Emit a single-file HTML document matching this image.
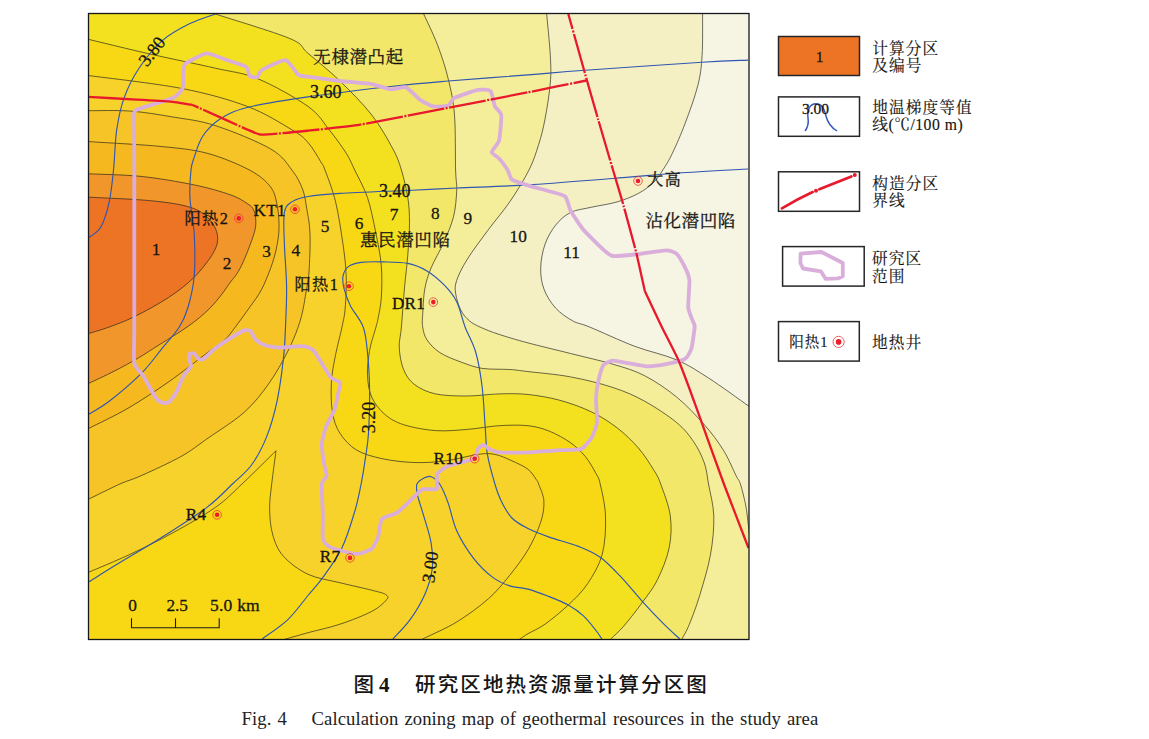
<!DOCTYPE html>
<html lang="zh-CN">
<head>
<meta charset="utf-8">
<title>图 4 研究区地热资源量计算分区图</title>
<style>
html,body{margin:0;padding:0;background:#fff;}
body{width:1149px;height:739px;overflow:hidden;position:relative;font-family:"Liberation Serif","Noto Serif CJK SC",serif;color:#1a1a1a;}
svg{position:absolute;left:0;top:0;display:block;}
svg text{font-family:"Liberation Serif","Noto Serif CJK SC",serif;fill:#161412;stroke:#161412;stroke-width:.28px;}
.ct{fill:none;stroke:#1d1d1d;stroke-width:.65;}
.bl{fill:none;stroke:#2f56b0;stroke-width:1.15;}
.rd{fill:none;stroke:#e8192c;stroke-width:2.3;stroke-linejoin:round;}
.pp{fill:none;stroke:#d9aedb;stroke-width:3.8;stroke-linejoin:round;stroke-linecap:round;}
.n{font-size:17.3px;text-anchor:middle;}
.v{font-size:18px;}
.z{font-size:17.5px;letter-spacing:.6px;}
.w{font-size:17.1px;letter-spacing:.3px;}
.wc{font-size:16.3px;letter-spacing:1.3px;}
.g{font-size:15.7px;letter-spacing:1.05px;stroke-width:.15px;}
.cap1{position:absolute;left:353.5px;top:668px;font-family:"Noto Sans CJK SC",sans-serif;font-weight:500;font-size:20.5px;letter-spacing:2.1px;line-height:30px;white-space:nowrap;color:#151515;}
.cap1 b{font-family:"Liberation Serif",serif;font-weight:bold;font-size:21px;letter-spacing:0;margin:0 25.5px 0 3px;}
.cap2{position:absolute;left:241.6px;top:706px;font-size:18.7px;letter-spacing:.06px;word-spacing:1.4px;line-height:26px;white-space:pre;color:#222;}
</style>
</head>
<body>
<svg width="1149" height="739" viewBox="0 0 1149 739">
<defs><clipPath id="mp"><rect x="88.5" y="13.5" width="660.5" height="626"/></clipPath></defs>
<g clip-path="url(#mp)">
<rect x="80" y="5" width="680" height="645" fill="#f6f4e3"/>
<path fill="#f4f0c4" d="M702.6 10C702.6 10.7 702.7 6.4 702.6 14C702.5 21.6 702.9 43.6 702.1 55.5C701.3 67.4 700.7 73.9 697.9 85.2C695.1 96.5 689.4 112.1 685.1 123.4C680.9 134.7 676.1 145.4 672.4 153.2C668.7 161 666 165.1 662.8 170C659.6 174.9 657.4 178.8 653.3 182.7C649.2 186.6 644.4 190.2 638.4 193.4C632.4 196.6 625 199.6 617.2 201.9C609.4 204.2 599.5 205.4 591.7 207.2C583.9 209 576.5 209.5 570.5 212.5C564.5 215.5 559.9 219.9 555.6 225.2C551.4 230.5 547.5 237.2 545 244.3C542.5 251.4 540.9 260.3 540.7 267.7C540.5 275.1 541.4 282.2 543.9 288.9C546.4 295.6 550.8 302.7 555.6 308C560.4 313.3 566.9 317.6 572.6 320.8C578.3 324 579.3 322.8 589.6 327C599.9 331.2 619.7 340.6 634.2 346.1C648.7 351.6 664.3 354.6 676.7 359.9C689.1 365.2 696.6 370.4 708.5 378C720.4 385.6 740.6 400.4 748 405.6C755.4 410.8 752.2 408.4 753 409L757 648L80 648L80 5Z"/>
<path fill="#f4ed9a" d="M546.5 10C546.5 10.7 546.1 6.4 546.7 14C547.3 21.6 549.7 44 550.3 55.5C550.9 67 551.2 72.5 550.3 83.1C549.4 93.7 547 108.9 545 119.2C543 129.5 541.3 136.2 538.6 144.7C535.9 153.2 533.8 160.5 529 170C524.2 179.5 516.5 192 509.7 201.9C502.9 211.8 495.6 219.9 488.5 229.5C481.4 239.1 472.6 250.7 467.3 259.2C462 267.7 458.6 274.7 456.7 280.4C454.8 286.1 454.9 288.2 455.6 293.2C456.3 298.2 458.6 305.6 460.9 310.2C463.2 314.8 466.2 318 469.4 320.8C472.6 323.6 475.1 324.7 480 327C484.9 329.3 491.1 331.8 499.1 334.4C507.1 337 516.1 339.7 528 342.9C539.9 346.1 556.4 349.9 570.5 353.5C584.6 357.1 600.5 360.5 612.9 364.2C625.3 367.9 634.2 370.3 644.8 375.8C655.4 381.3 666.8 389 676.7 397.1C686.6 405.2 696.5 415.9 704.3 424.7C712.1 433.5 718.1 441.7 723.4 450.2C728.7 458.7 733.3 470.1 736.1 475.7C738.9 481.3 738.8 479.1 740.4 484C742 488.9 744.4 498.8 745.7 505.2C747 511.6 747.3 516.4 748 522.2C748.7 528 749.7 537 750 540L757 648L80 648L80 5Z"/>
<path fill="#f2e768" d="M422 10C422.3 10.7 421.1 8.2 423.7 14C426.3 19.8 433.4 34.1 437.5 44.9C441.6 55.7 445.4 67.1 448.2 78.8C451 90.5 453.3 99.7 454.5 114.9C455.7 130.1 455.2 157.3 455.6 170C456 182.7 457.1 183.4 456.7 191.2C456.3 199 455.6 208.2 453.5 216.7C451.4 225.2 447.6 233.7 443.9 242.2C440.2 250.7 434.4 259.9 431.2 267.7C428 275.5 426.2 281.1 424.8 288.9C423.4 296.7 423.1 308 422.7 314.4C422.3 320.8 422 322.8 422.7 327C423.4 331.2 424.1 335.4 426.9 339.7C429.7 343.9 434 348.8 439.7 352.5C445.4 356.2 453.8 359.4 460.9 362C468 364.6 474 367.1 482.1 368.4C490.2 369.6 502.1 369 509.7 369.5C517.4 370 517.9 370.4 528 371.6C538.1 372.8 556.4 374.2 570.5 376.9C584.6 379.5 600.5 383.4 612.9 387.5C625.3 391.6 634.2 395.4 644.8 401.3C655.4 407.2 668.6 415.9 676.7 422.6C684.8 429.3 689 435 693.6 441.7C698.2 448.4 701.8 455.8 704.3 462.9C706.8 469.9 706.9 475.2 708.5 484C710.1 492.8 713.4 504.2 713.8 515.9C714.1 527.6 712.9 541 710.6 554.1C708.3 567.2 703.5 582.7 700 594.4C696.5 606.1 692.4 616.8 689.4 624.2C686.4 631.6 683.6 635.7 682 639C680.4 642.3 680.3 643.2 680 644L80 648L80 5Z"/>
<path fill="#f3e01e" d="M203 10C205.1 10.7 201 9.2 215.4 14C229.8 18.8 274.3 31.9 289.7 38.5C305.1 45 299.6 46.2 308 53.3C316.4 60.4 329.3 70.7 339.9 81C350.5 91.3 362.9 103.6 371.7 114.9C380.5 126.2 387.9 139.7 392.9 148.9C397.8 158.1 398.9 161.9 401.4 170C403.9 178.1 406.4 188.8 407.8 197.6C409.2 206.4 409.5 213.5 409.5 223.1C409.5 232.7 408.6 244.4 407.8 255C407 265.6 405.7 274.8 404.6 286.8C403.5 298.8 402.3 316.8 401.4 327C400.5 337.2 398.9 341.1 399.3 348.2C399.7 355.3 401.1 363.5 403.6 369.5C406.1 375.5 408.9 380.2 414.2 384.3C419.5 388.4 426.5 391.9 435.4 393.9C444.2 395.8 456.7 396 467.3 396C477.9 396 489 394.1 499.1 393.9C509.2 393.6 517.9 393.4 528 394.5C538.1 395.6 549.3 397.4 559.9 400.3C570.5 403.2 582.2 407.4 591.7 412C601.2 416.6 609.4 421.9 617.2 427.9C625 433.9 632.4 441.1 638.4 448C644.4 454.9 649.6 463.3 653.3 469.3C657 475.3 657.9 476.2 660.7 484C663.5 491.8 668.9 505.3 670.3 515.9C671.7 526.5 671.3 537.1 669.2 547.7C667.1 558.3 661.9 570.6 657.5 579.6C653.1 588.6 648.4 594.1 642.7 601.9C637.1 609.7 628.9 620.1 623.6 626.3C618.3 632.5 613.7 636 610.8 639C607.9 642 606.8 643.2 606 644L80 648L80 5Z"/>
<path fill="#f8d814" d="M84 38.3C84.8 38.5 77.7 36.8 89 39.5C100.3 42.2 130.6 49.6 151.7 54.4C172.8 59.2 197.7 64.1 215.4 68.2C233.1 72.3 242.5 72.4 257.9 78.8C273.3 85.2 296.1 97.9 308 106.4C319.9 114.9 322.8 122 329.2 129.8C335.6 137.6 341.9 146.5 346.2 153.2C350.4 159.9 351.1 162.6 354.7 170C358.2 177.4 363.9 187 367.5 197.6C371.1 208.2 373.7 222.4 376 233.7C378.3 245 380.4 255 381.3 265.6C382.2 276.2 381.9 288.5 381.3 297.4C380.8 306.2 378.9 313.8 378 318.7C377.1 323.6 377.4 321.7 376 327C374.6 332.3 371 342.3 369.6 350.4C368.2 358.5 367.1 368 367.5 375.8C367.9 383.6 368.9 390.7 371.7 397.1C374.5 403.5 379.2 409.5 384.5 414.1C389.8 418.7 395.1 421.9 403.6 424.7C412.1 427.4 424.8 429.8 435.4 430.6C446 431.4 456.7 430.2 467.3 429.4C477.9 428.6 489 426.3 499.1 425.7C509.2 425.1 519.6 424.8 528 425.7C536.4 426.6 542.1 428.3 549.2 431.1C556.3 433.9 564.5 438.5 570.5 442.7C576.5 446.9 581 451.4 585.3 456.5C589.5 461.6 593.5 468.9 596 473.5C598.5 478.1 598.6 476.9 600.2 484C601.8 491.1 605.1 504.2 605.5 515.9C605.9 527.6 605.3 542.8 602.3 554.1C599.3 565.4 593.2 575.3 587.5 583.8C581.8 592.3 575.4 598.3 568.3 605C561.2 611.7 551.7 619.4 545 624.2C538.3 629 532.2 631.2 528 633.7C523.8 636.2 522.5 637.3 520 639C517.5 640.7 514.2 643.2 513 644L80 648Z"/>
<path fill="#f7d22b" d="M84 75C84.8 75.1 72.8 73.4 89 75.6C105.2 77.8 155 83.3 181.4 88.4C207.8 93.5 228.9 99.5 247.3 106.4C265.7 113.3 281.8 123.8 291.9 129.8C302 135.8 303.2 137.2 308 142.5C312.8 147.8 317.9 157.1 320.7 161.7C323.5 166.3 322.5 163.3 325 170C327.5 176.7 332.6 189.5 335.6 201.9C338.6 214.3 341.2 231.9 343 244.3C344.8 256.7 345.8 265.6 346.2 276.2C346.6 286.8 345.9 299.5 345.2 308C344.5 316.5 343.6 319.2 342 327C340.4 334.8 337.4 345.4 335.6 354.6C333.8 363.8 331.9 372.6 331.4 382.2C330.9 391.8 331 403.4 332.4 411.9C333.8 420.4 335.8 426.8 339.9 433.2C344 439.6 349.7 445.9 356.8 450.2C363.9 454.4 372.7 456.6 382.3 458.7C391.9 460.8 403.6 462.1 414.2 462.5C424.8 462.9 435.4 462.2 446 460.8C456.6 459.4 469.8 455.5 477.9 454.4C486 453.3 489.2 453.3 494.9 454.4C500.6 455.5 506.4 458.3 511.9 460.8C517.4 463.3 523.9 466.1 528 469.3C532.1 472.5 534.7 477.4 536.5 479.9C538.3 482.3 537.4 480.5 538.6 484C539.8 487.5 543.5 494.6 543.9 501C544.2 507.4 543.4 514.1 540.7 522.2C538.1 530.3 533.2 540.9 528 549.8C522.8 558.6 516.3 567.1 509.7 575.3C503.1 583.4 497.3 590.9 488.5 598.7C479.7 606.5 467.3 615.5 456.7 622C446.1 628.5 432.2 634.3 424.8 638C417.4 641.7 414.1 643 412 644L80 648Z"/>
<path fill="#f8d814" d="M276 450.8C275.3 456.3 272.8 474.2 271.7 484C270.6 493.8 269.4 501 269.6 509.5C269.8 518 270.5 527.2 272.8 535C275.1 542.8 277.5 549.7 283.4 556.2C289.3 562.8 298.6 569.9 308 574.3C317.4 578.7 329.3 580.1 339.9 582.7C350.5 585.4 364.1 588.2 371.7 590.2C379.3 592.2 383 592.8 385.5 594.4C388 596 388.9 596.9 386.6 599.7C384.3 602.5 379.5 607.3 371.7 611.4C363.9 615.5 350.5 620.7 339.9 624.2C329.3 627.8 318.1 629.9 308 632.7C297.9 635.5 285.3 639.1 279 641C272.7 642.9 271.5 643.5 270 644L80 648L84 574C84.8 573.7 81.2 575.4 89 572.1C96.8 568.8 116.5 560.7 130.5 554.1C144.5 547.5 158.8 540.6 172.9 532.8C187.1 525 203.9 515.5 215.4 507.4C226.9 499.3 231.9 493.4 242 484C252.1 474.6 270.3 456.3 276 450.8Z"/>
<path fill="#f6c426" d="M84 110.7C84.8 110.7 81.2 110.6 89 110.7C96.8 110.8 116.5 110 130.5 111.1C144.5 112.1 158.8 114.6 172.9 117C187.1 119.4 199.1 120.3 215.4 125.6C231.7 130.9 257.9 141.5 270.6 148.9C283.4 156.3 286.6 163.3 291.9 170C297.2 176.7 300 182.6 302.5 189C305 195.4 305.4 200.8 306.7 208.2C307.9 215.6 309.6 223.1 310 233.7C310.4 244.3 309.6 262.6 309 272C308.4 281.4 307.8 282 306.4 290C305 298 303.4 310.1 300.4 320.1C297.4 330.1 293.7 339.4 288.4 350.1C283.1 360.8 275.8 373.9 268.4 384.2C261 394.5 254.3 403.2 244.3 412.2C234.3 421.2 218.8 430.6 208.2 438C197.6 445.4 192.2 450.2 181 456.5C169.8 462.8 151.3 471.1 141.1 475.7C130.9 480.3 128.6 480.1 119.9 484C111.2 487.9 95 496.1 89 498.9C83 501.7 84.8 500.6 84 501Z"/>
<path fill="#f5b81f" d="M84 141.3C86.1 141.4 83.8 141.2 96.5 142.1C109.2 142.9 141.8 144.6 160.2 146.4C178.6 148.2 192 149.3 206.9 153.2C221.8 157.1 238.8 164.4 249.4 170C260 175.6 266 181 270.6 187C275.2 193 275.9 199.1 277.3 206.1C278.7 213.1 279.2 221.7 279 228.9C278.8 236.1 277.6 242.7 276.2 249.3C274.8 255.9 273 261.7 270.5 268.5C268 275.3 264.7 283.6 261.3 290C257.9 296.4 254.3 300.7 250 306.8C245.7 312.9 239.8 321.1 235.7 326.5C231.6 331.9 229.8 335.1 225.2 339.4C220.6 343.7 217.7 345 208.2 352.1C198.7 359.2 181.5 372.9 168.2 382.2C154.8 391.5 141.3 400.5 128.1 408.2C114.9 415.9 96.3 424.5 89 428.3C81.7 432.1 84.8 430.6 84 431Z"/>
<path fill="#f0962a" d="M84 173.6C84.8 173.6 79.5 173.3 89 173.8C98.5 174.3 123.5 174.6 141 176.4C158.5 178.2 179.2 181.8 194.2 184.9C209.2 188 221.9 191.8 230.9 195C239.9 198.2 244.1 201.6 247.9 204C251.7 206.4 252.2 207.4 253.5 209.7C254.8 212 255.3 214.4 255.6 217.6C255.9 220.8 256.1 224.5 255.2 229C254.3 233.5 252.1 239.4 250.1 244.8C248.1 250.2 245.6 256.8 243.3 261.7C241.1 266.6 238.7 270.9 236.6 274.2C234.5 277.5 233.4 278.1 230.9 281.5C228.4 284.9 224.7 290.6 221.3 294.9C218 299.2 214.5 303.5 210.8 307.3C207.1 311.1 203.1 314.6 199.3 317.8C195.5 321 191.6 323.8 187.8 326.5C184 329.2 181.4 330.9 176.4 334.1C171.4 337.3 164.5 341.5 158.1 345.5C151.7 349.5 145.4 353.8 138.1 358.1C130.8 362.4 122.3 367 114.1 371.2C105.9 375.4 94 380.9 89 383.2C84 385.5 84.8 384.7 84 385Z"/>
<path fill="#ed7425" d="M84 197C84.8 197 77.7 196.6 89 197.2C100.3 197.8 134.9 199.1 151.7 200.8C168.5 202.5 180.3 204.2 189.9 207.2C199.5 210.2 204.4 214 209 218.8C213.6 223.6 216.8 230.1 217.5 235.8C218.2 241.5 217.2 245.9 213.3 252.8C209.4 259.7 201.6 269.8 194.2 277.2C186.8 284.6 178.6 290.8 168.7 297.4C158.8 303.9 144.6 311.6 134.7 316.5C124.8 321.4 116.8 324.2 109.2 327C101.6 329.8 93.2 332.1 89 333.4C84.8 334.7 84.8 334.7 84 335Z"/>
<path class="ct" d="M702.6 10C702.6 10.7 702.7 6.4 702.6 14C702.5 21.6 702.9 43.6 702.1 55.5C701.3 67.4 700.7 73.9 697.9 85.2C695.1 96.5 689.4 112.1 685.1 123.4C680.9 134.7 676.1 145.4 672.4 153.2C668.7 161 666 165.1 662.8 170C659.6 174.9 657.4 178.8 653.3 182.7C649.2 186.6 644.4 190.2 638.4 193.4C632.4 196.6 625 199.6 617.2 201.9C609.4 204.2 599.5 205.4 591.7 207.2C583.9 209 576.5 209.5 570.5 212.5C564.5 215.5 559.9 219.9 555.6 225.2C551.4 230.5 547.5 237.2 545 244.3C542.5 251.4 540.9 260.3 540.7 267.7C540.5 275.1 541.4 282.2 543.9 288.9C546.4 295.6 550.8 302.7 555.6 308C560.4 313.3 566.9 317.6 572.6 320.8C578.3 324 579.3 322.8 589.6 327C599.9 331.2 619.7 340.6 634.2 346.1C648.7 351.6 664.3 354.6 676.7 359.9C689.1 365.2 696.6 370.4 708.5 378C720.4 385.6 740.6 400.4 748 405.6C755.4 410.8 752.2 408.4 753 409M546.5 10C546.5 10.7 546.1 6.4 546.7 14C547.3 21.6 549.7 44 550.3 55.5C550.9 67 551.2 72.5 550.3 83.1C549.4 93.7 547 108.9 545 119.2C543 129.5 541.3 136.2 538.6 144.7C535.9 153.2 533.8 160.5 529 170C524.2 179.5 516.5 192 509.7 201.9C502.9 211.8 495.6 219.9 488.5 229.5C481.4 239.1 472.6 250.7 467.3 259.2C462 267.7 458.6 274.7 456.7 280.4C454.8 286.1 454.9 288.2 455.6 293.2C456.3 298.2 458.6 305.6 460.9 310.2C463.2 314.8 466.2 318 469.4 320.8C472.6 323.6 475.1 324.7 480 327C484.9 329.3 491.1 331.8 499.1 334.4C507.1 337 516.1 339.7 528 342.9C539.9 346.1 556.4 349.9 570.5 353.5C584.6 357.1 600.5 360.5 612.9 364.2C625.3 367.9 634.2 370.3 644.8 375.8C655.4 381.3 666.8 389 676.7 397.1C686.6 405.2 696.5 415.9 704.3 424.7C712.1 433.5 718.1 441.7 723.4 450.2C728.7 458.7 733.3 470.1 736.1 475.7C738.9 481.3 738.8 479.1 740.4 484C742 488.9 744.4 498.8 745.7 505.2C747 511.6 747.3 516.4 748 522.2C748.7 528 749.7 537 750 540M422 10C422.3 10.7 421.1 8.2 423.7 14C426.3 19.8 433.4 34.1 437.5 44.9C441.6 55.7 445.4 67.1 448.2 78.8C451 90.5 453.3 99.7 454.5 114.9C455.7 130.1 455.2 157.3 455.6 170C456 182.7 457.1 183.4 456.7 191.2C456.3 199 455.6 208.2 453.5 216.7C451.4 225.2 447.6 233.7 443.9 242.2C440.2 250.7 434.4 259.9 431.2 267.7C428 275.5 426.2 281.1 424.8 288.9C423.4 296.7 423.1 308 422.7 314.4C422.3 320.8 422 322.8 422.7 327C423.4 331.2 424.1 335.4 426.9 339.7C429.7 343.9 434 348.8 439.7 352.5C445.4 356.2 453.8 359.4 460.9 362C468 364.6 474 367.1 482.1 368.4C490.2 369.6 502.1 369 509.7 369.5C517.4 370 517.9 370.4 528 371.6C538.1 372.8 556.4 374.2 570.5 376.9C584.6 379.5 600.5 383.4 612.9 387.5C625.3 391.6 634.2 395.4 644.8 401.3C655.4 407.2 668.6 415.9 676.7 422.6C684.8 429.3 689 435 693.6 441.7C698.2 448.4 701.8 455.8 704.3 462.9C706.8 469.9 706.9 475.2 708.5 484C710.1 492.8 713.4 504.2 713.8 515.9C714.1 527.6 712.9 541 710.6 554.1C708.3 567.2 703.5 582.7 700 594.4C696.5 606.1 692.4 616.8 689.4 624.2C686.4 631.6 683.6 635.7 682 639C680.4 642.3 680.3 643.2 680 644M203 10C205.1 10.7 201 9.2 215.4 14C229.8 18.8 274.3 31.9 289.7 38.5C305.1 45 299.6 46.2 308 53.3C316.4 60.4 329.3 70.7 339.9 81C350.5 91.3 362.9 103.6 371.7 114.9C380.5 126.2 387.9 139.7 392.9 148.9C397.8 158.1 398.9 161.9 401.4 170C403.9 178.1 406.4 188.8 407.8 197.6C409.2 206.4 409.5 213.5 409.5 223.1C409.5 232.7 408.6 244.4 407.8 255C407 265.6 405.7 274.8 404.6 286.8C403.5 298.8 402.3 316.8 401.4 327C400.5 337.2 398.9 341.1 399.3 348.2C399.7 355.3 401.1 363.5 403.6 369.5C406.1 375.5 408.9 380.2 414.2 384.3C419.5 388.4 426.5 391.9 435.4 393.9C444.2 395.8 456.7 396 467.3 396C477.9 396 489 394.1 499.1 393.9C509.2 393.6 517.9 393.4 528 394.5C538.1 395.6 549.3 397.4 559.9 400.3C570.5 403.2 582.2 407.4 591.7 412C601.2 416.6 609.4 421.9 617.2 427.9C625 433.9 632.4 441.1 638.4 448C644.4 454.9 649.6 463.3 653.3 469.3C657 475.3 657.9 476.2 660.7 484C663.5 491.8 668.9 505.3 670.3 515.9C671.7 526.5 671.3 537.1 669.2 547.7C667.1 558.3 661.9 570.6 657.5 579.6C653.1 588.6 648.4 594.1 642.7 601.9C637.1 609.7 628.9 620.1 623.6 626.3C618.3 632.5 613.7 636 610.8 639C607.9 642 606.8 643.2 606 644M84 38.3C84.8 38.5 77.7 36.8 89 39.5C100.3 42.2 130.6 49.6 151.7 54.4C172.8 59.2 197.7 64.1 215.4 68.2C233.1 72.3 242.5 72.4 257.9 78.8C273.3 85.2 296.1 97.9 308 106.4C319.9 114.9 322.8 122 329.2 129.8C335.6 137.6 341.9 146.5 346.2 153.2C350.4 159.9 351.1 162.6 354.7 170C358.2 177.4 363.9 187 367.5 197.6C371.1 208.2 373.7 222.4 376 233.7C378.3 245 380.4 255 381.3 265.6C382.2 276.2 381.9 288.5 381.3 297.4C380.8 306.2 378.9 313.8 378 318.7C377.1 323.6 377.4 321.7 376 327C374.6 332.3 371 342.3 369.6 350.4C368.2 358.5 367.1 368 367.5 375.8C367.9 383.6 368.9 390.7 371.7 397.1C374.5 403.5 379.2 409.5 384.5 414.1C389.8 418.7 395.1 421.9 403.6 424.7C412.1 427.4 424.8 429.8 435.4 430.6C446 431.4 456.7 430.2 467.3 429.4C477.9 428.6 489 426.3 499.1 425.7C509.2 425.1 519.6 424.8 528 425.7C536.4 426.6 542.1 428.3 549.2 431.1C556.3 433.9 564.5 438.5 570.5 442.7C576.5 446.9 581 451.4 585.3 456.5C589.5 461.6 593.5 468.9 596 473.5C598.5 478.1 598.6 476.9 600.2 484C601.8 491.1 605.1 504.2 605.5 515.9C605.9 527.6 605.3 542.8 602.3 554.1C599.3 565.4 593.2 575.3 587.5 583.8C581.8 592.3 575.4 598.3 568.3 605C561.2 611.7 551.7 619.4 545 624.2C538.3 629 532.2 631.2 528 633.7C523.8 636.2 522.5 637.3 520 639C517.5 640.7 514.2 643.2 513 644M84 75C84.8 75.1 72.8 73.4 89 75.6C105.2 77.8 155 83.3 181.4 88.4C207.8 93.5 228.9 99.5 247.3 106.4C265.7 113.3 281.8 123.8 291.9 129.8C302 135.8 303.2 137.2 308 142.5C312.8 147.8 317.9 157.1 320.7 161.7C323.5 166.3 322.5 163.3 325 170C327.5 176.7 332.6 189.5 335.6 201.9C338.6 214.3 341.2 231.9 343 244.3C344.8 256.7 345.8 265.6 346.2 276.2C346.6 286.8 345.9 299.5 345.2 308C344.5 316.5 343.6 319.2 342 327C340.4 334.8 337.4 345.4 335.6 354.6C333.8 363.8 331.9 372.6 331.4 382.2C330.9 391.8 331 403.4 332.4 411.9C333.8 420.4 335.8 426.8 339.9 433.2C344 439.6 349.7 445.9 356.8 450.2C363.9 454.4 372.7 456.6 382.3 458.7C391.9 460.8 403.6 462.1 414.2 462.5C424.8 462.9 435.4 462.2 446 460.8C456.6 459.4 469.8 455.5 477.9 454.4C486 453.3 489.2 453.3 494.9 454.4C500.6 455.5 506.4 458.3 511.9 460.8C517.4 463.3 523.9 466.1 528 469.3C532.1 472.5 534.7 477.4 536.5 479.9C538.3 482.3 537.4 480.5 538.6 484C539.8 487.5 543.5 494.6 543.9 501C544.2 507.4 543.4 514.1 540.7 522.2C538.1 530.3 533.2 540.9 528 549.8C522.8 558.6 516.3 567.1 509.7 575.3C503.1 583.4 497.3 590.9 488.5 598.7C479.7 606.5 467.3 615.5 456.7 622C446.1 628.5 432.2 634.3 424.8 638C417.4 641.7 414.1 643 412 644M84 110.7C84.8 110.7 81.2 110.6 89 110.7C96.8 110.8 116.5 110 130.5 111.1C144.5 112.1 158.8 114.6 172.9 117C187.1 119.4 199.1 120.3 215.4 125.6C231.7 130.9 257.9 141.5 270.6 148.9C283.4 156.3 286.6 163.3 291.9 170C297.2 176.7 300 182.6 302.5 189C305 195.4 305.4 200.8 306.7 208.2C307.9 215.6 309.6 223.1 310 233.7C310.4 244.3 309.6 262.6 309 272C308.4 281.4 307.8 282 306.4 290C305 298 303.4 310.1 300.4 320.1C297.4 330.1 293.7 339.4 288.4 350.1C283.1 360.8 275.8 373.9 268.4 384.2C261 394.5 254.3 403.2 244.3 412.2C234.3 421.2 218.8 430.6 208.2 438C197.6 445.4 192.2 450.2 181 456.5C169.8 462.8 151.3 471.1 141.1 475.7C130.9 480.3 128.6 480.1 119.9 484C111.2 487.9 95 496.1 89 498.9C83 501.7 84.8 500.6 84 501M84 141.3C86.1 141.4 83.8 141.2 96.5 142.1C109.2 142.9 141.8 144.6 160.2 146.4C178.6 148.2 192 149.3 206.9 153.2C221.8 157.1 238.8 164.4 249.4 170C260 175.6 266 181 270.6 187C275.2 193 275.9 199.1 277.3 206.1C278.7 213.1 279.2 221.7 279 228.9C278.8 236.1 277.6 242.7 276.2 249.3C274.8 255.9 273 261.7 270.5 268.5C268 275.3 264.7 283.6 261.3 290C257.9 296.4 254.3 300.7 250 306.8C245.7 312.9 239.8 321.1 235.7 326.5C231.6 331.9 229.8 335.1 225.2 339.4C220.6 343.7 217.7 345 208.2 352.1C198.7 359.2 181.5 372.9 168.2 382.2C154.8 391.5 141.3 400.5 128.1 408.2C114.9 415.9 96.3 424.5 89 428.3C81.7 432.1 84.8 430.6 84 431M84 173.6C84.8 173.6 79.5 173.3 89 173.8C98.5 174.3 123.5 174.6 141 176.4C158.5 178.2 179.2 181.8 194.2 184.9C209.2 188 221.9 191.8 230.9 195C239.9 198.2 244.1 201.6 247.9 204C251.7 206.4 252.2 207.4 253.5 209.7C254.8 212 255.3 214.4 255.6 217.6C255.9 220.8 256.1 224.5 255.2 229C254.3 233.5 252.1 239.4 250.1 244.8C248.1 250.2 245.6 256.8 243.3 261.7C241.1 266.6 238.7 270.9 236.6 274.2C234.5 277.5 233.4 278.1 230.9 281.5C228.4 284.9 224.7 290.6 221.3 294.9C218 299.2 214.5 303.5 210.8 307.3C207.1 311.1 203.1 314.6 199.3 317.8C195.5 321 191.6 323.8 187.8 326.5C184 329.2 181.4 330.9 176.4 334.1C171.4 337.3 164.5 341.5 158.1 345.5C151.7 349.5 145.4 353.8 138.1 358.1C130.8 362.4 122.3 367 114.1 371.2C105.9 375.4 94 380.9 89 383.2C84 385.5 84.8 384.7 84 385M84 197C84.8 197 77.7 196.6 89 197.2C100.3 197.8 134.9 199.1 151.7 200.8C168.5 202.5 180.3 204.2 189.9 207.2C199.5 210.2 204.4 214 209 218.8C213.6 223.6 216.8 230.1 217.5 235.8C218.2 241.5 217.2 245.9 213.3 252.8C209.4 259.7 201.6 269.8 194.2 277.2C186.8 284.6 178.6 290.8 168.7 297.4C158.8 303.9 144.6 311.6 134.7 316.5C124.8 321.4 116.8 324.2 109.2 327C101.6 329.8 93.2 332.1 89 333.4C84.8 334.7 84.8 334.7 84 335M276 450.8C270.3 456.3 252.1 474.6 242 484C231.9 493.4 226.9 499.3 215.4 507.4C203.9 515.5 187.1 525 172.9 532.8C158.8 540.6 144.5 547.5 130.5 554.1C116.5 560.7 96.8 568.8 89 572.1C81.2 575.4 84.8 573.7 84 574M276 450.8C275.3 456.3 272.8 474.2 271.7 484C270.6 493.8 269.4 501 269.6 509.5C269.8 518 270.5 527.2 272.8 535C275.1 542.8 277.5 549.7 283.4 556.2C289.3 562.8 298.6 569.9 308 574.3C317.4 578.7 329.3 580.1 339.9 582.7C350.5 585.4 364.1 588.2 371.7 590.2C379.3 592.2 383 592.8 385.5 594.4C388 596 388.9 596.9 386.6 599.7C384.3 602.5 379.5 607.3 371.7 611.4C363.9 615.5 350.5 620.7 339.9 624.2C329.3 627.8 318.1 629.9 308 632.7C297.9 635.5 285.3 639.1 279 641C272.7 642.9 271.5 643.5 270 644"/>
<path class="bl" d="M215.4 14C211.2 15.6 198.8 19.2 189.9 23.6C181.1 28 170.8 33.2 162.3 40.6C153.8 48 145.4 58.7 139 68.2C132.6 77.8 127.8 87.6 124.1 97.9C120.4 108.2 118.5 117.8 116.7 129.8C114.9 141.8 114.8 158 113.5 170C112.2 182 111.3 192.3 109.2 201.9C107.1 211.5 104.2 221.3 100.7 227.3C97.2 233.3 90.1 236.2 88 238M748 60.1C740.4 60.5 729.2 60.6 702.1 62.3C675 64 614.3 68.2 585.3 70.3C556.3 72.4 550.9 73.1 528 74.9C505.1 76.7 470.7 79.1 448.2 81C425.7 82.9 416.3 83.6 392.9 86.3C369.5 89 332.3 93.4 308 96.9C283.7 100.4 262 103.8 247.3 107.5C232.6 111.2 227.1 114.4 219.7 119.2C212.3 124 206.9 129.8 202.7 136.2C198.4 142.6 196.1 151.8 194.2 157.4C192.2 163 191.7 163.3 191 170C190.3 176.7 189.4 187 189.9 197.6C190.4 208.2 193.5 220.6 194.2 233.7C194.9 246.8 195.3 263.8 194.2 276.2C193.1 288.6 190.3 299.5 187.8 308C185.3 316.5 183.6 320.3 179.3 327C175.1 333.7 168.7 340.4 162.3 348.2C155.9 356 149.9 364.8 141.1 373.7C132.2 382.6 117.9 394.6 109.2 401.3C100.5 408 92.4 412 89 414.1M748 169C736.1 169.7 699.2 171.6 676.7 173.2C654.2 174.8 637.8 176.6 613 178.5C588.2 180.4 554 183.3 528 184.9C501.9 186.5 476 187.1 456.7 188C437.4 188.9 431.5 189.3 412 190.2C392.5 191.1 357.2 192.3 339.9 193.4C322.6 194.5 316 195.1 308 196.5C300 197.9 295.8 199.2 291.9 201.9C288 204.6 285.6 205.4 284.4 212.5C283.1 219.6 284 231.9 284.4 244.3C284.8 256.7 286.4 273 286.6 286.8C286.8 300.6 286 315 285.5 327C285 339 284.8 346.5 283.4 358.9C282 371.3 279.8 388.2 277 401.3C274.2 414.4 270.6 426.8 266.4 437.4C262.1 448 257.2 457.2 251.5 465C245.8 472.8 239.8 476.9 232.4 484C225 491.1 218.6 498.5 206.9 507.4C195.2 516.2 176.8 527.9 162.3 537.1C147.8 546.3 132.1 555.2 119.9 562.6C107.7 570 94.2 578.5 89 581.7M262.1 639C266.4 635.8 280 627.1 287.6 619.9C295.2 612.6 302.1 602.6 308 595.5C313.9 588.4 317.2 585.4 322.9 577.4C328.6 569.4 336.7 558.7 342 547.7C347.3 536.7 351.5 522.2 354.7 511.6C357.9 501 359.3 492.8 361.1 484C362.9 475.2 364.1 467.2 365.3 458.7C366.5 450.2 367.8 444.5 368.5 433.2C369.2 421.9 369.8 404.1 369.6 390.7C369.4 377.2 368.6 363.1 367.5 352.5C366.4 341.9 366 334.8 363.2 327C360.4 319.2 353.7 312.2 350.5 305.9C347.3 299.5 345.4 293.8 344.1 288.9C342.9 283.9 342.3 279.9 343 276.2C343.7 272.5 345.3 268.9 348.3 266.6C351.3 264.3 355.4 263.2 361.1 262.4C366.8 261.6 374.5 261.7 382.3 261.9C390.1 262.1 400.4 261.9 407.8 263.4C415.2 264.9 420.9 267.3 426.9 270.9C432.9 274.4 438.9 279.6 443.9 284.7C448.9 289.8 453.2 294.6 456.7 301.7C460.2 308.8 461.9 318.5 465.1 327C468.3 335.5 473 342.6 475.8 352.5C478.6 362.4 480.5 373.8 482.1 386.5C483.7 399.2 484.4 417.6 485.3 428.9C486.2 440.2 485.8 445.2 487.4 454.4C489 463.6 492.6 476.2 494.9 484C497.2 491.8 498.4 495.3 501.2 501C504 506.7 507.4 513.4 511.9 518C516.4 522.6 521.8 525.4 528 528.6C534.2 531.8 540.7 534.1 549.2 537.1C557.7 540.1 570.5 543.2 579 546.6C587.5 550 593.1 552.2 600.2 557.3C607.3 562.4 614.3 570 621.4 577.4C628.5 584.8 635.6 594.1 642.7 601.9C649.8 609.7 657.7 618 663.9 624.2C670.1 630.4 677.1 636.5 679.8 639M392.9 639C395.7 635.8 404.6 627.3 409.9 619.9C415.2 612.5 421.1 602.9 424.8 594.4C428.5 585.9 431.1 577.4 432.2 568.9C433.3 560.4 432.6 552.3 431.2 543.5C429.8 534.7 426 524 423.7 515.9C421.4 507.8 418.5 499.9 417.4 494.6C416.3 489.3 415.9 486.7 417 484C418.1 481.3 421.3 479.4 423.7 478.2C426.1 477 428.5 475.7 431.2 476.7C433.9 477.7 436.9 479.6 439.7 484C442.5 488.4 445.4 495.3 448.2 503.1C451 510.9 452.5 521.5 456.7 530.7C460.9 539.9 467.6 550.5 473.6 558.3C479.6 566.1 486.8 572.8 492.8 577.4C498.8 582 503.8 583.9 509.7 585.9C515.6 587.9 521.4 587.3 528 589.1C534.6 590.9 542.5 594 549.2 596.6C555.9 599.2 562.6 601.8 568.3 605C574 608.2 578.6 611.5 583.2 615.7C587.8 620 592.9 626.6 596 630.5C599.1 634.4 600.9 637.6 601.9 639"/>
<path class="pp" d="M134.3 170C134.3 151.5 134.1 130.2 134.1 125C134.1 119.8 133.8 114.9 134 113.5C134.2 112.1 134.4 110.7 136.3 109.8C138.2 108.9 151.1 105.1 154.5 104C157.9 102.9 170.9 98.9 173.4 97.7C175.9 96.5 180.5 91.6 181.4 90.5C182.3 89.4 182.8 87.3 183 86C183.2 84.7 183.1 77.9 183.2 76C183.3 74.1 183.9 66.5 184.3 65.2C184.7 63.9 185.4 63.3 187.5 62.2C189.6 61.1 203.2 53.5 206.7 53.3C210.2 53.1 222.4 58.6 226 59.8C229.6 61 244 65.3 246.2 66.8C248.4 68.3 248.6 75.1 249.6 76C250.6 76.9 256.2 77.6 257.3 77.1C258.4 76.5 259.4 71.6 262 70C264.6 68.4 282.2 59.7 285.5 60.1C288.8 60.5 296.1 73.1 298.2 74.6C300.3 76.1 304.2 76.1 308 76.7C311.8 77.3 334.1 80.3 339.9 81C345.7 81.7 367 83.3 371.7 84.1C376.4 84.9 387.7 89.1 390.8 89.4C393.9 89.7 403 86.3 405.7 87.3C408.4 88.3 418.1 98.3 420.6 100.1C423.1 101.9 430.8 105.9 433.3 106.4C435.8 106.9 446.3 106.2 448.2 105.4C450.1 104.6 451.8 99.3 454.5 97.9C457.2 96.5 474.6 90.5 477.9 89.9C481.2 89.3 489 89.6 490.6 91.1C492.2 92.6 493.9 104.2 494.9 106.4C495.9 108.6 500.8 111.8 501.2 114.9C501.6 118 500 137 499.1 140.4C498.2 143.8 491.7 150.4 491.7 152.1C491.7 153.8 497.6 156.9 499.1 158.5C500.6 160.1 506.4 168.1 507.6 170C508.8 171.9 510 178.2 511.9 179.6C513.8 181 524.6 184.3 528 185.4C531.4 186.5 545.8 190.2 549.2 191.2C552.6 192.2 563.2 194.7 565.2 196.5C567.2 198.3 568.9 207.3 570.5 210.3C572.1 213.3 580.1 225.8 583.2 229.5C586.3 233.2 601.8 248.3 604.5 250.7C607.2 253.1 610.3 255.7 613 256C615.7 256.3 629.3 255 634.2 254.5C639.1 254 662.1 250.4 666 250.3C669.9 250.2 674.9 252.3 676.7 253.9C678.5 255.5 683.9 265.3 685.1 267.7C686.3 270.1 689.1 276.7 689.4 280.4C689.7 284.1 687.9 304.1 688.3 308C688.7 311.9 693 321.2 693.6 322.9C694.2 324.6 694.9 324.7 694.7 327C694.5 329.3 692.4 345.3 691.5 348.2C690.6 351.1 687.4 357.4 685.1 358.9C682.8 360.4 669.5 363.5 666 364.2C662.5 364.9 650.4 366.4 646.9 366.3C643.4 366.2 630.9 363.6 627.8 363.1C624.7 362.6 615.1 360.4 612.9 360.6C610.7 360.8 604.8 363.2 603.4 365.2C602 367.2 598.8 379.1 598.1 382.2C597.4 385.3 596.1 395.5 596 399.2C595.9 402.9 597.4 419.1 597 422.6C596.6 426.1 593.2 435 591.7 437.4C590.2 439.8 584 447.9 581.1 449.1C578.2 450.3 564.8 449.9 559.9 450.2C555 450.5 533.6 452.1 528 452.3C522.4 452.5 502.6 452.6 499.1 452.3C495.6 452 491.1 449.8 489.6 449.1C488.1 448.4 484.3 444.9 483.2 444.9C482.1 444.9 478.8 447.8 477.9 449.1C477 450.4 476.3 457.1 473.6 458.7C470.9 460.3 451.5 464.7 448.2 466.1C444.9 467.5 438.5 471.9 437.5 473.5C436.5 475.1 436.9 482.6 436.8 484C436.7 485.4 437.8 488.8 436.5 489.3C435.2 489.8 424.7 488.6 422.7 489.3C420.7 490 416.5 494.6 414.2 496.7C411.9 498.8 400.2 510.7 397.2 512.7C394.2 514.7 383.7 516.8 381.9 519C380.1 521.2 379 534.4 378.1 537.1C377.2 539.8 373.5 547.3 371.7 548.8C369.9 550.3 361.3 553.4 359 553.7C356.7 554 348.9 552.7 346.2 552C343.5 551.3 331.3 547.8 329.2 546.6C327.1 545.4 323.5 542 322.9 539.2C322.3 536.4 323 521 322.9 515.9C322.8 510.8 321.5 487.7 321.8 484C322.1 480.3 326.5 477.6 326.7 475.7C326.9 473.8 324.3 465.8 323.9 462.9C323.5 460 321.6 447.1 321.8 443.8C322 440.5 324.8 429.9 326 426.8C327.2 423.7 333.3 413.1 334.5 409.8C335.7 406.5 338.3 393.2 338.8 390.7C339.3 388.2 341 383.8 340.3 382.6C339.6 381.4 333 379.6 331.4 378C329.8 376.4 324.5 367.6 322.9 365.2C321.3 362.8 315.8 353 314.4 351.4C313 349.8 309.3 347.7 308 347.2C306.7 346.7 303 346.1 300.4 346.1C297.8 346.1 282.4 347.7 279.1 347.6C275.8 347.5 266.4 345.7 264.3 345C262.2 344.3 257.1 341 255.8 339.7C254.5 338.4 251.5 332.1 250.5 331.2C249.5 330.3 246.4 329.9 245.1 330.2C243.8 330.5 239.3 332.8 236.6 334.4C233.9 336 218.4 346 215.4 348.2C212.4 350.4 205.3 357.9 203.7 358.9C202.1 359.9 199.3 359.4 198.4 358.9C197.5 358.4 195 354 194.2 353.5C193.4 353 190.4 353 189.9 353.5C189.4 354 188.8 357.7 188.9 358.9C189 360.1 191.5 364.8 191 366.3C190.5 367.8 185 373.4 183.6 375.8C182.2 378.2 177.5 390.4 176.1 392.8C174.7 395.2 170.1 401.5 168.7 402.4C167.3 403.3 162.5 402.8 161.3 402.4C160.1 402 157.7 400.5 156 398.1C154.3 395.7 145.2 379 143.2 375.8C141.2 372.6 135.1 367.6 134.3 363.1C133.5 358.6 134.3 344.7 134.3 327C134.3 309.3 134.3 188.5 134.3 170"/>
<path class="rd" d="M88 96.9C90.4 97 132.6 99.4 136.8 99.6C141 99.8 170.1 101.5 172.9 101.8C175.7 102.1 191 104.6 192 104.7"/><path class="rd" stroke-dasharray="37.2 1.5 2 1.5" stroke-dashoffset="29.8" d="M192 104.7C193.4 105.3 216.3 115.6 219.7 117.1C223.1 118.6 255.6 133.8 260 134.5C264.4 135.2 303.1 131.2 308 130.7C312.9 130.2 352.2 126 359 124.9C365.8 123.8 435.4 110.2 443.9 108.6C452.3 107 520.9 93.7 528 92.3C535.1 90.9 583.5 81.1 586.4 80.5"/><path class="rd" stroke-dasharray="40.5 1.5 2 1.5" stroke-dashoffset="24.7" d="M568.3 14C569.3 17.5 583.6 68.5 585.3 74.6C587 80.7 596.5 113.6 598.1 119.2C599.7 124.8 611.6 165.2 613 170C614.4 174.8 621.1 197.1 622.5 201.9C623.9 206.7 635 247.6 636.3 252.8C637.6 258 644.3 288.8 644.8 291"/><path class="rd" d="M644.8 291C645.8 293.1 659.8 322.9 661.8 327C663.8 331.1 676.7 356 678.8 361C680.9 366 695.3 404.7 697.9 411.9C700.5 419.1 720.9 476.1 723.9 484C726.9 491.9 747.1 544.3 748.5 548"/>
</g>
<rect x="88.5" y="13.5" width="660.5" height="626" fill="none" stroke="#15171c" stroke-width="1.3"/>
<circle cx="238.8" cy="218.4" r="4.3" fill="none" stroke="#ee3a3a" stroke-width="0.8"/><circle cx="238.8" cy="218.4" r="2.3" fill="#ec1c2c"/><circle cx="295" cy="209.3" r="4.3" fill="none" stroke="#ee3a3a" stroke-width="0.8"/><circle cx="295" cy="209.3" r="2.3" fill="#ec1c2c"/><circle cx="349" cy="286.2" r="4.3" fill="none" stroke="#ee3a3a" stroke-width="0.8"/><circle cx="349" cy="286.2" r="2.3" fill="#ec1c2c"/><circle cx="433.3" cy="302.1" r="4.3" fill="none" stroke="#ee3a3a" stroke-width="0.8"/><circle cx="433.3" cy="302.1" r="2.3" fill="#ec1c2c"/><circle cx="638" cy="181" r="4.3" fill="none" stroke="#ee3a3a" stroke-width="0.8"/><circle cx="638" cy="181" r="2.3" fill="#ec1c2c"/><circle cx="474.7" cy="458.7" r="4.3" fill="none" stroke="#ee3a3a" stroke-width="0.8"/><circle cx="474.7" cy="458.7" r="2.3" fill="#ec1c2c"/><circle cx="217.1" cy="514.8" r="4.3" fill="none" stroke="#ee3a3a" stroke-width="0.8"/><circle cx="217.1" cy="514.8" r="2.3" fill="#ec1c2c"/><circle cx="350" cy="557.9" r="4.3" fill="none" stroke="#ee3a3a" stroke-width="0.8"/><circle cx="350" cy="557.9" r="2.3" fill="#ec1c2c"/>
<path d="M131.5 618.2V627.8H219.2V618.2M175.5 618.2V627.8" fill="none" stroke="#1a1a1a" stroke-width="1.1"/>
<text x="156" y="255" class="n">1</text>
<text x="227" y="268.8" class="n">2</text>
<text x="266.5" y="257.1" class="n">3</text>
<text x="295.7" y="255.8" class="n">4</text>
<text x="325" y="232" class="n">5</text>
<text x="359" y="229.1" class="n">6</text>
<text x="394" y="219.5" class="n">7</text>
<text x="435.4" y="218.5" class="n">8</text>
<text x="467.7" y="224.4" class="n">9</text>
<text x="518.2" y="241.8" class="n">10</text>
<text x="571.5" y="257.8" class="n">11</text>
<text x="310" y="97.8" class="v">3.60</text>
<text x="379" y="197" class="v">3.40</text>
<text class="v" transform="translate(152,51.2) rotate(-52)" x="-16" y="6">3.80</text>
<text class="v" transform="translate(368.6,417.3) rotate(-90)" x="-16" y="6">3.20</text>
<text class="v" transform="translate(430.2,566.8) rotate(-82)" x="-16" y="6">3.00</text>
<text x="313.3" y="62.5" class="z">无棣潜凸起</text>
<text x="360" y="246" class="z">惠民潜凹陷</text>
<text x="645.4" y="227" class="z">沾化潜凹陷</text>
<text x="184.5" y="224.4" class="wc">阳热2</text>
<text x="253.6" y="215.7" class="w">KT1</text>
<text x="294.5" y="290.3" class="wc">阳热1</text>
<text x="391.9" y="309" class="w">DR1</text>
<text x="647" y="185" class="wc">大高</text>
<text x="433.6" y="464" class="w">R10</text>
<text x="185.7" y="520.2" class="w">R4</text>
<text x="319.7" y="562" class="w">R7</text>
<text x="132.6" y="611.3" class="n">0</text>
<text x="177.2" y="611.3" class="n">2.5</text>
<text x="210.1" y="611.3" class="v" style="font-size:17.5px;letter-spacing:.2px">5.0 km</text>
<rect x="778.5" y="36.5" width="81" height="39" fill="#ed7425" stroke="#26262a" stroke-width="1.5"/>
<text x="819.5" y="61.5" class="n" style="font-size:15.5px">1</text>
<text x="872.3" y="53.6" class="g">计算分区</text>
<text x="872.3" y="71.2" class="g">及编号</text>
<rect x="778.5" y="96.9" width="81" height="39.4" fill="#fff" stroke="#26262a" stroke-width="1.5"/>
<path class="bl" style="stroke-width:1.45;stroke:#3457c0" d="M805 131C808 127 809 124 808 118C807 109 810 104 816 103.8C822 104 824 108 826 116C828 124 832 128 837 131"/>
<text x="815.5" y="113.6" class="n" style="font-size:15.5px">3.00</text>
<text x="872.3" y="112.7" class="g">地温梯度等值</text>
<text x="872.3" y="130.4" class="g" style="letter-spacing:.5px">线(℃/100 m)</text>
<rect x="778.5" y="171.8" width="81" height="39.5" fill="#fff" stroke="#26262a" stroke-width="1.5"/>
<path class="rd" d="M781.9 208.4Q797 199.3 812.7 192.1M819.3 189.3L851.4 176.4" style="stroke-width:2.7;stroke-linecap:round"/>
<circle cx="816" cy="190.7" r="2" fill="#e8192c"/><circle cx="854.8" cy="174.9" r="2" fill="#e8192c"/>
<text x="872.3" y="188.5" class="g">构造分区</text>
<text x="872.3" y="206.3" class="g">界线</text>
<rect x="782.6" y="246.6" width="81.6" height="39.5" fill="#fff" stroke="#26262a" stroke-width="1.5"/>
<path class="pp" d="M800.6 253.6L821.5 252L842.8 263V276.2L838 278.4L825.6 278.8L820.8 271.3L803 268.5L800.4 263Z" style="stroke-width:3.8"/>
<text x="872" y="264.2" class="g">研究区</text>
<text x="872" y="281.6" class="g">范围</text>
<rect x="778.5" y="321.6" width="80.8" height="39.5" fill="#fff" stroke="#26262a" stroke-width="1.5"/>
<text x="789.2" y="347.2" class="g" style="font-size:14.5px">阳热1</text>
<circle cx="838.6" cy="341.9" r="5.6" fill="none" stroke="#ee3a3a" stroke-width="0.8"/><circle cx="838.6" cy="341.9" r="2.8" fill="#ec1c2c"/>
<text x="872" y="347.6" class="g">地热井</text>
</svg>
<div class="cap1">图<b>4</b>研究区地热资源量计算分区图</div>
<div class="cap2">Fig. 4    Calculation zoning map of geothermal resources in the study area</div>
</body>
</html>
